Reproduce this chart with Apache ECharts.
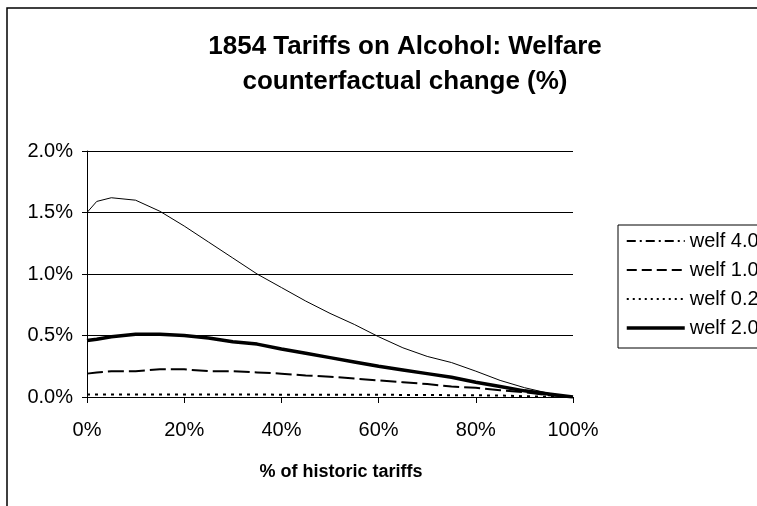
<!DOCTYPE html>
<html>
<head>
<meta charset="utf-8">
<script src="https://cdn.jsdelivr.net/npm/echarts@6/dist/echarts.min.js"></script>
<style>
  html, body { margin: 0; padding: 0; background: #fff; }
  #main { width: 757px; height: 506px; }
</style>
</head>
<body>
<div id="main"></div>
<script>
// % of historic tariffs
var xPct = [0, 2, 5, 10, 15, 20, 25, 30, 35, 40, 45, 50, 55, 60, 65, 70, 75, 80, 85, 90, 95, 100];
// welfare change, in %
var welf40 = [1.50, 1.59, 1.62, 1.60, 1.51, 1.39, 1.26, 1.13, 1.00, 0.89, 0.78, 0.68, 0.59, 0.49, 0.40, 0.33, 0.28, 0.21, 0.135, 0.076, 0.03, 0];
var welf10 = [0.19, 0.20, 0.21, 0.21, 0.225, 0.225, 0.21, 0.21, 0.20, 0.19, 0.175, 0.165, 0.15, 0.135, 0.12, 0.105, 0.085, 0.075, 0.055, 0.04, 0.015, 0];
var welf02 = [0.02, 0.02, 0.02, 0.02, 0.02, 0.02, 0.02, 0.02, 0.02, 0.019, 0.019, 0.018, 0.018, 0.018, 0.017, 0.016, 0.015, 0.014, 0.012, 0.006, 0.003, 0];
var welf20 = [0.46, 0.47, 0.49, 0.51, 0.51, 0.50, 0.48, 0.45, 0.43, 0.39, 0.355, 0.32, 0.285, 0.25, 0.22, 0.19, 0.16, 0.12, 0.085, 0.05, 0.025, 0];

function pairs(vals) {
  return xPct.map(function (x, i) { return [x, vals[i]]; });
}

var chart = echarts.init(document.getElementById('main'));
var font = '"Liberation Sans", Arial, sans-serif';

var option = {
  animation: false,
  backgroundColor: '#fff',
  color: ['#000', '#000', '#000', '#000'],
  textStyle: { fontFamily: font, color: '#000' },
  graphic: [{
    type: 'rect',
    shape: { x: 7, y: 8, width: 800, height: 600 },
    style: { fill: 'none', stroke: '#000', lineWidth: 1.5 }
  }],
  title: {
    text: '1854 Tariffs on Alcohol: Welfare\ncounterfactual change (%)',
    left: 400,
    top: 24,
    textAlign: 'center',
    textStyle: { fontFamily: font, fontSize: 26, fontWeight: 'bold', color: '#000', lineHeight: 35 }
  },
  legend: {
    orient: 'vertical',
    left: 618,
    top: 225,
    borderColor: '#000',
    borderWidth: 1,
    padding: [6, 30, 10, 7],
    itemWidth: 58,
    itemHeight: 14,
    itemGap: 9,
    itemStyle: { opacity: 0 },
    textStyle: { fontFamily: font, fontSize: 20, color: '#000', lineHeight: 20 },
    data: [
      { name: 'welf 4.0', lineStyle: { type: [9, 4, 2, 4], width: 2 } },
      { name: 'welf 1.0', lineStyle: { type: [10, 5], width: 2 } },
      { name: 'welf 0.2', lineStyle: { type: [2, 4], width: 2 } },
      { name: 'welf 2.0', lineStyle: { width: 3.5 } }
    ]
  },
  grid: { left: 87, right: 184, top: 151, bottom: 109 },
  xAxis: {
    type: 'value',
    min: 0,
    max: 100,
    interval: 20,
    name: '% of historic tariffs',
    nameLocation: 'middle',
    nameGap: 66,
    nameTextStyle: { fontFamily: font, fontSize: 18, fontWeight: 'bold', color: '#000', padding: [0, 0, 0, 22] },
    axisLine: { show: true, lineStyle: { color: '#000', width: 1 } },
    axisTick: { show: true, length: 6, lineStyle: { color: '#000' } },
    axisLabel: { fontFamily: font, fontSize: 20, color: '#000', margin: 23, formatter: '{value}%' },
    splitLine: { show: false }
  },
  yAxis: {
    type: 'value',
    min: 0,
    max: 2,
    interval: 0.5,
    axisLine: { show: true, lineStyle: { color: '#000', width: 1 } },
    axisTick: { show: true, length: 5, lineStyle: { color: '#000' } },
    axisLabel: {
      fontFamily: font, fontSize: 20, color: '#000', margin: 14,
      formatter: function (v) { return v.toFixed(1) + '%'; }
    },
    splitLine: { show: true, lineStyle: { color: '#000', width: 1 } }
  },
  series: [
    { name: 'welf 4.0', type: 'line', symbol: 'none', data: pairs(welf40),
      lineStyle: { color: '#000', width: 1 } },
    { name: 'welf 1.0', type: 'line', symbol: 'none', data: pairs(welf10),
      lineStyle: { color: '#000', width: 2, type: [16, 5] } },
    { name: 'welf 0.2', type: 'line', symbol: 'none', data: pairs(welf02),
      lineStyle: { color: '#000', width: 2, type: [3, 5] } },
    { name: 'welf 2.0', type: 'line', symbol: 'none', data: pairs(welf20),
      lineStyle: { color: '#000', width: 3.5 } }
  ]
};

chart.setOption(option);
</script>
</body>
</html>
